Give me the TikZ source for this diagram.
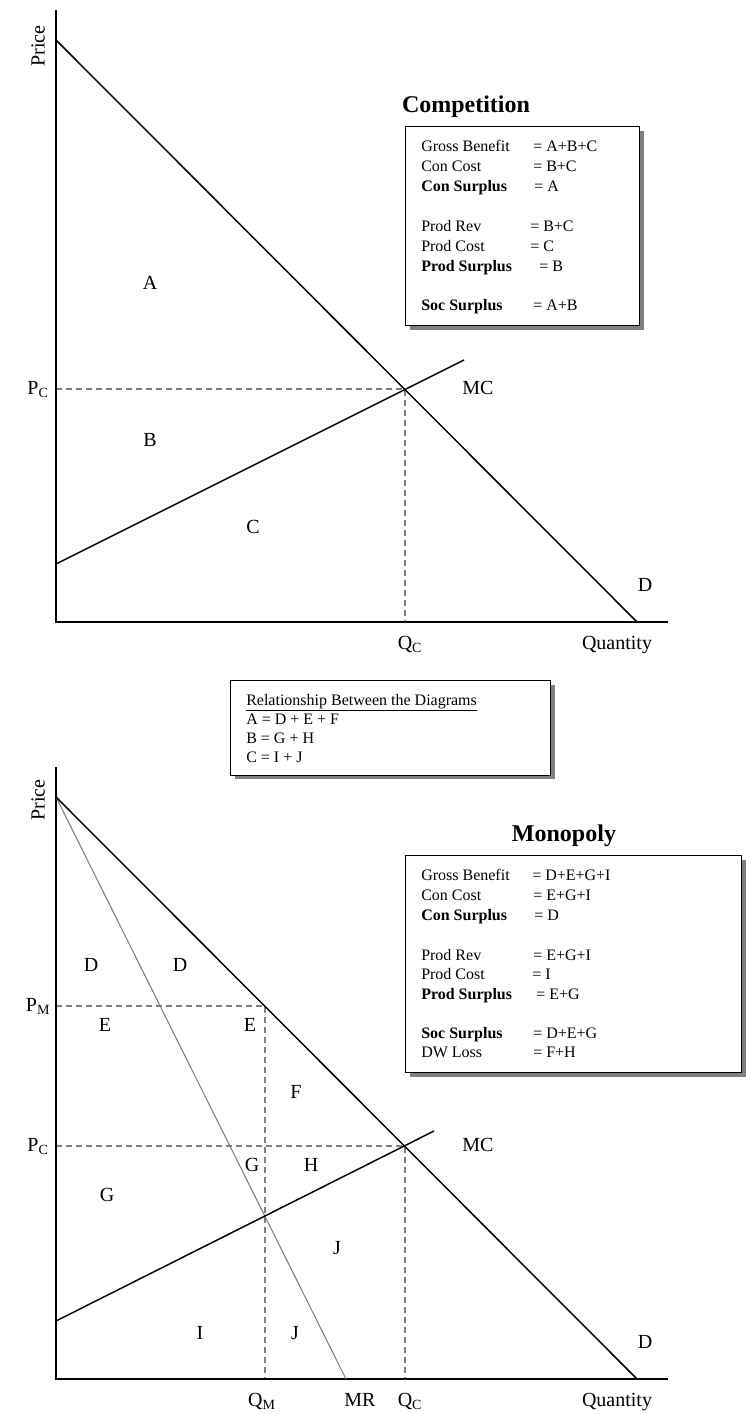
\documentclass[tikz,border=0pt]{standalone}
\usepackage{fontspec}
\setmainfont{Liberation Serif}
\usetikzlibrary{shadows}
\definecolor{dashgray}{HTML}{808080}
\definecolor{shadowgray}{HTML}{7F7F7F}
\begin{document}
\begin{tikzpicture}[x=0.75pt,y=-0.75pt,
  axis/.style={line width=1.1pt},
  curve/.style={line width=1.1pt},
  mrline/.style={line width=0.8pt, draw=dashgray},
  guide/.style={line width=1.2pt, draw=dashgray, dash pattern=on 4.5pt off 3pt},
  lbl/.style={inner sep=0pt, text height=8pt, text depth=0pt, font=\fontsize{12}{14}\selectfont},
  blbl/.style={lbl, font=\fontsize{12}{14}\selectfont\bfseries},
  clbl/.style={inner sep=0pt, text height=10pt, text depth=0pt, font=\fontsize{15}{18}\selectfont},
  ttl/.style={inner sep=0pt, text height=12pt, text depth=0pt, font=\fontsize{18}{21}\selectfont\bfseries},
  panel/.style={draw=black, line width=1.1pt, fill=white, anchor=north west, inner sep=0pt,
     drop shadow={shadow xshift=3pt, shadow yshift=-3pt, opacity=1, fill=shadowgray}}
]
\useasboundingbox (0,0) rectangle (746,1414);
\fill[white] (0,0) rectangle (746,1414);

% ================= TOP: Competition =================
\coordinate (o1) at (56,622);
\coordinate (ytop1) at (56,10);
\coordinate (xend1) at (668,622);
\coordinate (d1s) at (56,40);
\coordinate (d1e) at (637,622);
\coordinate (mc1s) at (56,564);
\coordinate (mc1e) at (464,360);
\coordinate (e1) at (405,389);
\coordinate (pc1c) at (56,389);
\coordinate (qc1c) at (405,622);

\draw[guide] (pc1c) -- (e1) -- (qc1c);
\draw[axis] (ytop1) -- (o1) -- (xend1);
\draw[curve] (d1s) -- (d1e);
\draw[curve] (mc1s) -- (mc1e);

\node[clbl, rotate=90] (price1) at (38,46) {Price};
\node[clbl] (pc1) at (38,388) {P\textsubscript{C}};
\node[clbl] (qc1) at (410,643) {Q\textsubscript{C}};
\node[clbl] (qty1) at (617,643) {Quantity};
\node[clbl] (dl1) at (645,585) {D};
\node[clbl] (mcl1) at (478,388) {MC};
\node[clbl] (A) at (150,283) {A};
\node[clbl] (B) at (150,440) {B};
\node[clbl] (C) at (253,527) {C};

\node[ttl] (comp) at (466,104) {Competition};
\node[panel, minimum width=175.5pt, minimum height=149.25pt] (cbox) at (405,126) {};
\node[lbl, anchor=west] (c1a) at (421,146) {Gross Benefit};
\node[lbl, anchor=west] (c1b) at (533,146) {= A+B+C};
\node[lbl, anchor=west] (c2a) at (421,166) {Con Cost};
\node[lbl, anchor=west] (c2b) at (533,166) {= B+C};
\node[blbl, anchor=west] (c3a) at (421,186) {Con Surplus};
\node[lbl, anchor=west] (c3b) at (534,186) {= A};
\node[lbl, anchor=west] (c4a) at (421,226) {Prod Rev};
\node[lbl, anchor=west] (c4b) at (530,226) {= B+C};
\node[lbl, anchor=west] (c5a) at (421,246) {Prod Cost};
\node[lbl, anchor=west] (c5b) at (530,246) {= C};
\node[blbl, anchor=west] (c6a) at (421,266) {Prod Surplus};
\node[lbl, anchor=west] (c6b) at (539,266) {= B};
\node[blbl, anchor=west] (c7a) at (421,305) {Soc Surplus};
\node[lbl, anchor=west] (c7b) at (533,305) {= A+B};

% ================= MIDDLE: Relationship =================
\node[panel, minimum width=240pt, minimum height=71pt] (rbox) at (230,680) {};
\node[lbl, anchor=west] (r0) at (246,700) {\underline{Relationship Between the Diagrams}};
\node[lbl, anchor=west] (r1) at (246,719) {A = D + E + F};
\node[lbl, anchor=west] (r2) at (246,738) {B = G + H};
\node[lbl, anchor=west] (r3) at (246,757) {C = I + J};

% ================= BOTTOM: Monopoly =================
\coordinate (o2) at (56,1379);
\coordinate (ytop2) at (56,767);
\coordinate (xend2) at (668,1379);
\coordinate (d2s) at (56,797);
\coordinate (d2e) at (637,1379);
\coordinate (mr2e) at (346,1379);
\coordinate (mc2s) at (56,1321);
\coordinate (mc2e) at (434,1131);
\coordinate (e2) at (405,1146);
\coordinate (pc2c) at (56,1146);
\coordinate (qc2c) at (405,1379);
\coordinate (m2) at (265,1006);
\coordinate (pm2c) at (56,1006);
\coordinate (qm2c) at (265,1379);

\draw[guide] (pc2c) -- (e2) -- (qc2c);
\draw[guide] (pm2c) -- (m2) -- (qm2c);
\draw[axis] (ytop2) -- (o2) -- (xend2);
\draw[mrline] (d2s) -- (mr2e);
\draw[curve] (d2s) -- (d2e);
\draw[curve] (mc2s) -- (mc2e);

\node[clbl, rotate=90] (price2) at (38,800) {Price};
\node[clbl] (pm2) at (38,1005) {P\textsubscript{M}};
\node[clbl] (pc2) at (38,1145) {P\textsubscript{C}};
\node[clbl] (qm2) at (262,1400) {Q\textsubscript{M}};
\node[clbl] (mrl2) at (360,1400) {MR};
\node[clbl] (qc2) at (410,1400) {Q\textsubscript{C}};
\node[clbl] (qty2) at (617,1400) {Quantity};
\node[clbl] (dl2) at (645,1342) {D};
\node[clbl] (mcl2) at (478,1145) {MC};
\node[clbl] (D1) at (91,965) {D};
\node[clbl] (D2) at (180,965) {D};
\node[clbl] (E1) at (105,1025) {E};
\node[clbl] (E2) at (250,1025) {E};
\node[clbl] (F) at (296,1092) {F};
\node[clbl] (G1) at (252,1165) {G};
\node[clbl] (H) at (311,1165) {H};
\node[clbl] (G2) at (107,1195) {G};
\node[clbl] (J1) at (337,1248) {J};
\node[clbl] (I) at (200,1333) {I};
\node[clbl] (J2) at (295,1333) {J};

\node[ttl] (mono) at (564,833) {Monopoly};
\node[panel, minimum width=252pt, minimum height=162.75pt] (mbox) at (405,855) {};
\node[lbl, anchor=west] (m1a) at (421,875) {Gross Benefit};
\node[lbl, anchor=west] (m1b) at (532,875) {= D+E+G+I};
\node[lbl, anchor=west] (m2a) at (421,895) {Con Cost};
\node[lbl, anchor=west] (m2b) at (533,895) {= E+G+I};
\node[blbl, anchor=west] (m3a) at (421,915) {Con Surplus};
\node[lbl, anchor=west] (m3b) at (534,915) {= D};
\node[lbl, anchor=west] (m4a) at (421,955) {Prod Rev};
\node[lbl, anchor=west] (m4b) at (533,955) {= E+G+I};
\node[lbl, anchor=west] (m5a) at (421,974) {Prod Cost};
\node[lbl, anchor=west] (m5b) at (532,974) {= I};
\node[blbl, anchor=west] (m6a) at (421,994) {Prod Surplus};
\node[lbl, anchor=west] (m6b) at (536,994) {= E+G};
\node[blbl, anchor=west] (m7a) at (421,1033) {Soc Surplus};
\node[lbl, anchor=west] (m7b) at (533,1033) {= D+E+G};
\node[lbl, anchor=west] (m8a) at (421,1052) {DW Loss};
\node[lbl, anchor=west] (m8b) at (533,1052) {= F+H};
\end{tikzpicture}
\end{document}
